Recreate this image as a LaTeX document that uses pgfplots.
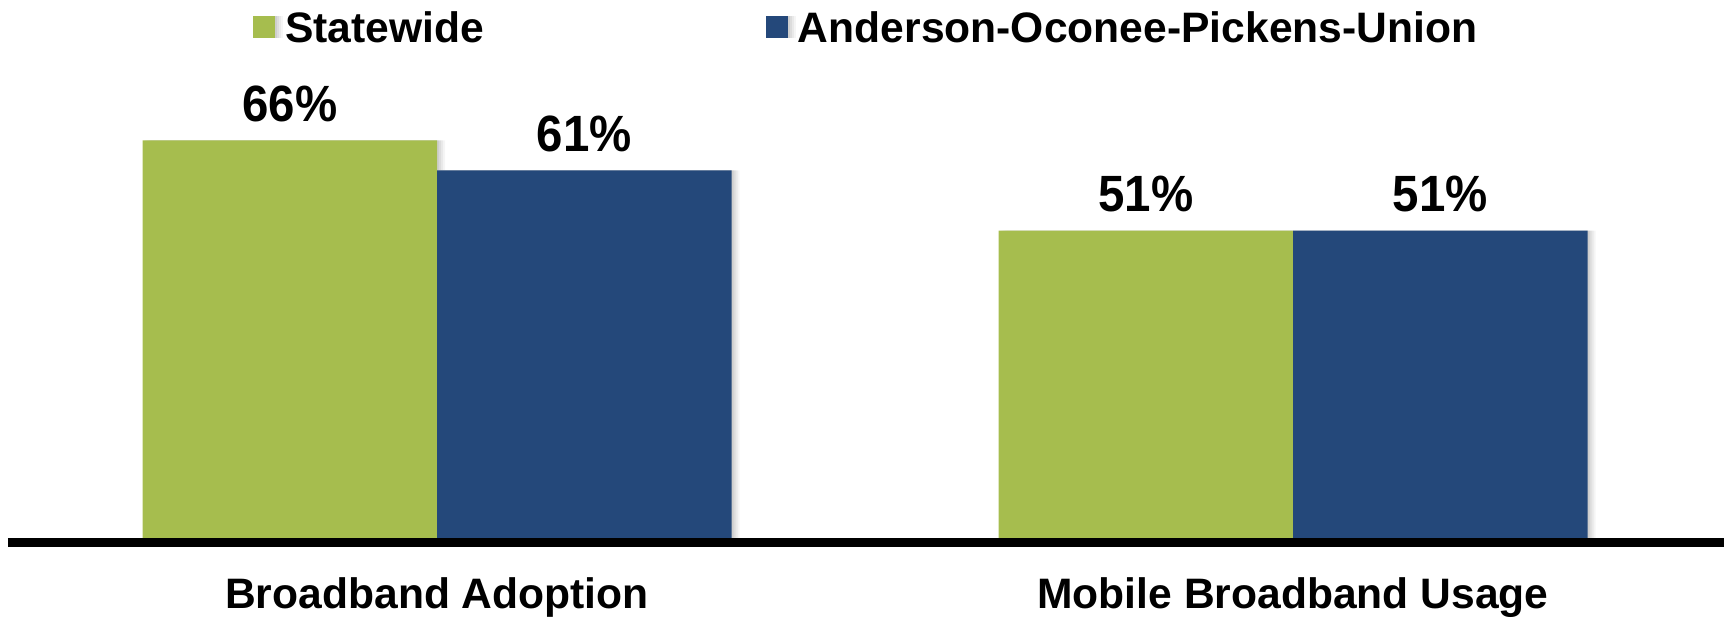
\documentclass[border=0pt]{standalone}
\usepackage{pgfplots}
\pgfplotsset{compat=1.18}
\usepackage{fontspec}
\setmainfont{Liberation Sans}
\usetikzlibrary{shadows}
\definecolor{cgreen}{HTML}{A6BD4E}
\definecolor{cblue}{HTML}{24487A}
\newcommand{\lblfont}{\fontsize{21.3}{25}\selectfont\bfseries}
\newcommand{\valfont}{\fontsize{25.5}{30}\selectfont\bfseries}
\tikzset{softshadow/.style={
  drop shadow={shadow xshift=4pt, shadow yshift=0pt, opacity=0.08},
  drop shadow={shadow xshift=3pt, shadow yshift=0pt, opacity=0.10},
  drop shadow={shadow xshift=2pt, shadow yshift=0pt, opacity=0.12},
  drop shadow={shadow xshift=1pt, shadow yshift=0pt, opacity=0.15}}}
\begin{document}
\begin{tikzpicture}
\path[use as bounding box] (0,0) rectangle (863.5pt,309.5pt);
\begin{axis}[
  at={(4pt,38.25pt)}, anchor=south west,
  width=858pt, height=228.25pt, scale only axis,
  xmin=-0.5012, xmax=1.5035, ymin=-0.7, ymax=75,
  clip=false, axis on top,
  axis x line=bottom, axis y line=none,
  x axis line style={-, line width=4.2pt, black},
  ybar=0pt, bar width=147.25pt,
  xtick={0,1}, xticklabels={Broadband Adoption, Mobile Broadband Usage},
  major tick length=0pt,
  xticklabel style={font=\lblfont, anchor=base, inner sep=0pt, yshift=-33.25pt},
  /pgf/number format/assume math mode=true,
  nodes near coords={\scalebox{0.93}[1]{\pgfmathprintnumber{\pgfplotspointmeta}\%}},
  every node near coord/.append style={font=\valfont, text=black, anchor=base, inner sep=0pt, yshift=9.5pt},
  legend columns=2,
  legend style={at={(0.1426,1.125)}, anchor=west, draw=none, fill=none, inner sep=0pt,
    font=\lblfont, nodes={inner sep=0pt},
    /tikz/every odd column/.append style={column sep=5pt},
    /tikz/every even column/.append style={column sep=141pt}},
]
\addplot[fill=cgreen, draw=none, softshadow,
  legend image code/.code={\fill[cgreen] (0pt,-4.5pt) rectangle (11pt,6.5pt);}]
  coordinates {(0,66) (1,51)};
\addplot[fill=cblue, draw=none, softshadow,
  legend image code/.code={\fill[cblue] (0pt,-4.5pt) rectangle (11pt,6.5pt);}]
  coordinates {(0,61) (1,51)};
\legend{Statewide, Anderson-Oconee-Pickens-Union}
\end{axis}
\end{tikzpicture}
\end{document}
